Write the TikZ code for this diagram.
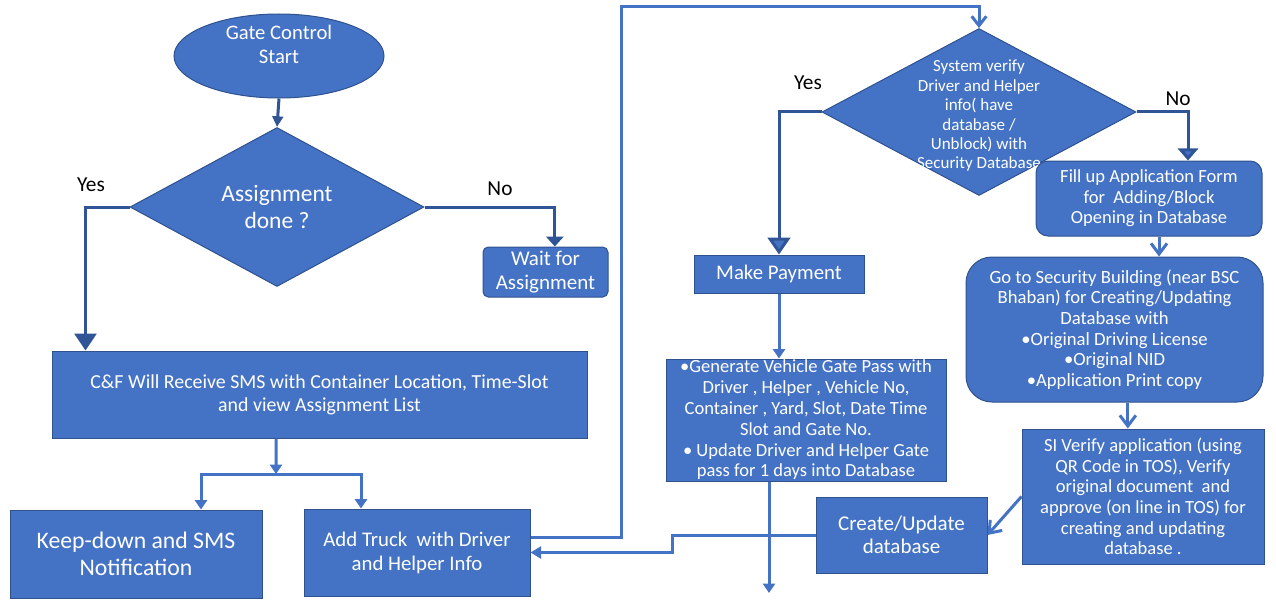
\documentclass[tikz,border=0pt]{standalone}
\usepackage{fontspec}
\setmainfont{Carlito}
\usetikzlibrary{shapes.geometric,arrows.meta}

\definecolor{boxblue}{RGB}{68,114,196}
\definecolor{boxedge}{RGB}{47,82,143}
\definecolor{linedark}{RGB}{47,85,151}
\newcommand{\setfs}[2]{\fontsize{#1}{#2}\selectfont}

\tikzset{every picture/.style={line width=0.75pt}}
\tikzset{
  flowbox/.style={draw=boxedge, fill=boxblue, text=white, align=center, inner sep=0pt, line width=0.75pt},
  roundbox/.style={flowbox, rounded corners=#1},
  decision/.style={flowbox, shape=diamond, shape aspect=1.85},
  startoval/.style={flowbox, shape=ellipse, minimum width=157.5pt, minimum height=63pt},
  ovaltext/.style={text=white, align=center, inner sep=0pt},
  yesno/.style={font=\setfs{16}{18}, inner sep=0pt},
  darkline/.style={draw=linedark, line width=2.25pt},
  lightline/.style={draw=boxblue, line width=2.25pt}
}

\begin{document}
\begin{tikzpicture}[x=0.75pt,y=0.75pt,yscale=-1,xscale=1]
	\useasboundingbox (0,0) rectangle (1276,599);

	% Start Node
	\node[startoval, label={[ovaltext, font=\setfs{15.5}{18}, yshift=9pt]center:{Gate Control\\Start}}] (start) at (279,56) {};
	% Decision Nodes
	\node[decision, minimum width=220.5pt, minimum height=119.25pt, font=\setfs{17.6}{20.25}] (assign) at (277,207) {Assignment\\done ?};
	\node[decision, minimum width=235.5pt, minimum height=125.25pt, label={[ovaltext, font=\setfs{12.75}{14.55}, yshift=-3pt]center:{System verify\\Driver and Helper\\info( have\\database /\\Unblock) with\\Security Database}}] (verify) at (979,112) {};

	% Process Nodes
	\node[roundbox=4pt, minimum width=93.75pt, minimum height=37.5pt, font=\setfs{15.75}{18}] (wait) at (545.5,272) {Wait for\\Assignment};
	\node[flowbox, minimum width=401.25pt, minimum height=65.25pt, font=\setfs{14.9}{17.25}] (receive) at (319.5,394.5) {C\&F Will Receive SMS with Container Location, Time-Slot\\and view Assignment List};
	\node[flowbox, minimum width=189pt, minimum height=66pt, font=\setfs{17.8}{20.25}] (keepdown) at (136,554) {Keep-down and SMS\\Notification};
	\node[flowbox, minimum width=169.5pt, minimum height=65.25pt, font=\setfs{15.6}{18}] (addtruck) at (417,552.5) {Add Truck~ with Driver\\and Helper Info};
	\node[flowbox, minimum width=127.5pt, minimum height=28.5pt, font=\setfs{15.6}{18}] (payment) at (779,274) {Make Payment};
	\node[roundbox=9pt, minimum width=169.5pt, minimum height=56.25pt, font=\setfs{13.9}{15.4}] (fillup) at (1149,198.5) {Fill up Application Form\\for~ Adding/Block\\Opening in Database};
	\node[roundbox=19.5pt, minimum width=222.75pt, minimum height=108.75pt, font=\setfs{14}{15.45}] (security) at (1114.5,329.5) {Go to Security Building (near BSC\\Bhaban) for Creating/Updating\\Database with\\•Original Driving License\\•Original NID\\•Application Print copy};
	\node[flowbox, minimum width=210pt, minimum height=91.5pt, font=\setfs{13.9}{15.6}] (gatepass) at (806,420) {•Generate Vehicle Gate Pass with\\Driver , Helper , Vehicle No,\\Container , Yard, Slot, Date Time\\Slot and Gate No.\\• Update Driver and Helper Gate\\pass for 1 days into Database};
	\node[flowbox, minimum width=181.5pt, minimum height=101.25pt, font=\setfs{13.9}{15.4}] (siverify) at (1143,496.5) {SI Verify application (using\\QR Code in TOS), Verify\\original document~ and\\approve (on line in TOS) for\\creating and updating\\database .};
	\node[flowbox, minimum width=128.25pt, minimum height=57pt, font=\setfs{15.75}{17.25}] (dbupdate) at (901.5,535) {Create/Update\\database};

	% Text Node
	\node[yesno] (yes1) at (91,185) {Yes};
	\node[yesno] (no1) at (500,189) {No};
	\node[yesno] (yes2) at (808,83) {Yes};
	\node[yesno] (no2) at (1178,99) {No};

	\coordinate (split) at (276,474);
	\coordinate (loop) at (621,7);
	\coordinate (exit) at (769,593);

	%Straight Lines
	\draw[darkline, -{Triangle[length=8pt,width=8pt]}] (start.south) -- (assign.north);
	\draw[darkline, -{Triangle[length=12.75pt,width=16.5pt]}] (assign.west) -| ([xshift=25.5pt]receive.north west);
	\draw[darkline, -{Triangle[length=7.5pt,width=13pt]}] (assign.east) -| ([xshift=7pt]wait.north);
	\draw[lightline, -{Triangle[length=7pt,width=9pt]}] ([xshift=-32.6pt]receive.south) -- (split);
	\draw[lightline, -{Triangle[length=7pt,width=9pt]}] (split) -| ([xshift=48.75pt]keepdown.north);
	\draw[lightline, -{Triangle[length=7pt,width=9pt]}] (split) -| ([xshift=-42pt]addtruck.north);
	\draw[lightline, -{Triangle[length=8pt,width=9pt]}] (dbupdate.west) -- ++(-143,0) |- (addtruck.east);
	\draw[lightline, -{Straight Barb[length=7pt,width=11pt]}] ([yshift=-11.6pt]addtruck.east) -| (loop) -| (verify.north);
	\draw[darkline, -{Triangle[length=12.75pt,width=17pt,fill=boxblue]}] (verify.west) -| (payment.north);
	\draw[darkline, -{Triangle[length=9pt,width=15pt,fill=boxblue]}] (verify.east) -| ([xshift=29.25pt]fillup.north);
	\draw[lightline, -{Straight Barb[length=8pt,width=12pt]}] ([xshift=7.5pt]fillup.south) -- ([xshift=7.5pt]fillup.south |- security.north);
	\draw[lightline, -{Triangle[length=7pt,width=9pt]}] (payment.south) -- (payment.south |- gatepass.north);
	\draw[lightline, -{Triangle[length=7pt,width=9pt]}] (exit |- gatepass.south) -- (exit);
	\draw[lightline, -{Straight Barb[length=8pt,width=12pt]}] ([xshift=10pt]security.south) -- ([xshift=10pt]security.south |- siverify.north);
	\draw[lightline, -{Straight Barb[length=8pt,width=12pt]}] (siverify.west) -- (dbupdate.east);

\end{tikzpicture}
\end{document}
